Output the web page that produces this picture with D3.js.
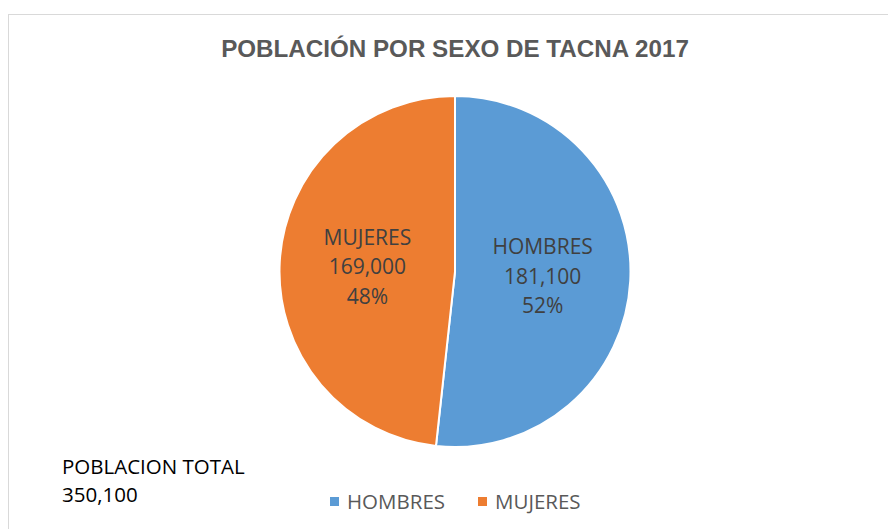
<!DOCTYPE html>
<html>
<head>
<meta charset="utf-8">
<script src="https://cdn.jsdelivr.net/npm/d3@7"></script>
<style>
  body { margin: 0; background: #fff; }
  svg { display: block; }
</style>
</head>
<body>
<div id="chart"></div>
<script>
// Chart data
const categories = ['HOMBRES', 'MUJERES'];
const values = [181100, 169000];
const colors = ['#5B9BD5', '#ED7D31'];
const totalLabel = ['POBLACION TOTAL', '350,100'];
const title = 'POBLACIÓN POR SEXO DE TACNA 2017';

const width = 888, height = 529;
const cx = 455, cy = 271.5, radius = 175.5;
const labelFont = 'Open Sans, Noto Sans, sans-serif';

const svg = d3.select('#chart')
    .append('svg')
    .attr('width', width)
    .attr('height', height);

// Chart frame (continues past the window on the right and bottom)
svg.append('rect')
    .attr('x', 8.5)
    .attr('y', 14.5)
    .attr('width', width + 20)
    .attr('height', height + 20)
    .attr('fill', 'none')
    .attr('stroke', '#d9d9d9')
    .attr('stroke-width', 1);

// Title
svg.append('text')
    .attr('x', cx)
    .attr('y', 57)
    .attr('text-anchor', 'middle')
    .attr('font-family', 'Liberation Sans, Arial, sans-serif')
    .attr('font-weight', 'bold')
    .attr('font-size', 24.2)
    .attr('fill', '#595959')
    .text(title);

const total = d3.sum(values);
const data = categories.map((c, i) => ({ name: c, value: values[i], color: colors[i] }));

const pie = d3.pie().sort(null).value(d => d.value);
const arc = d3.arc().innerRadius(0).outerRadius(radius);
const labelArc = d3.arc().innerRadius(radius * 0.5).outerRadius(radius * 0.5);

const g = svg.append('g').attr('transform', `translate(${cx},${cy})`);

const slices = g.selectAll('.slice')
    .data(pie(data))
    .enter()
    .append('g')
    .attr('class', 'slice');

slices.append('path')
    .attr('d', arc)
    .attr('fill', d => d.data.color)
    .attr('stroke', '#fff')
    .attr('stroke-width', 2);

// Data labels: name, value, percent
const fmt = d3.format(',');
slices.each(function (d) {
    const [lx, ly] = labelArc.centroid(d);
    const lines = [d.data.name, fmt(d.data.value), Math.round(d.data.value / total * 100) + '%'];
    const t = d3.select(this).append('text')
        .attr('text-anchor', 'middle')
        .attr('font-family', labelFont)
        .attr('font-size', 21)
        .attr('fill', '#404040');
    lines.forEach((line, i) => {
        t.append('tspan')
            .attr('x', lx)
            .attr('y', ly + (i - 1) * 29.5 + 7.5)
            .text(line);
    });
});

// Total population note
const note = svg.append('text')
    .attr('font-family', labelFont)
    .attr('font-size', 20.5)
    .attr('fill', '#000');
totalLabel.forEach((line, i) => {
    note.append('tspan')
        .attr('x', 62)
        .attr('y', 473.5 + i * 28.5)
        .text(line);
});

// Legend
const legendX = [330, 478];
const legend = svg.selectAll('.legend')
    .data(data)
    .enter()
    .append('g')
    .attr('class', 'legend')
    .attr('transform', (d, i) => `translate(${legendX[i]},497)`);

legend.append('rect')
    .attr('width', 9)
    .attr('height', 9)
    .attr('fill', d => d.color);

legend.append('text')
    .attr('x', 17)
    .attr('y', 12)
    .attr('font-family', labelFont)
    .attr('font-size', 20.5)
    .attr('fill', '#595959')
    .text(d => d.name);
</script>
</body>
</html>
